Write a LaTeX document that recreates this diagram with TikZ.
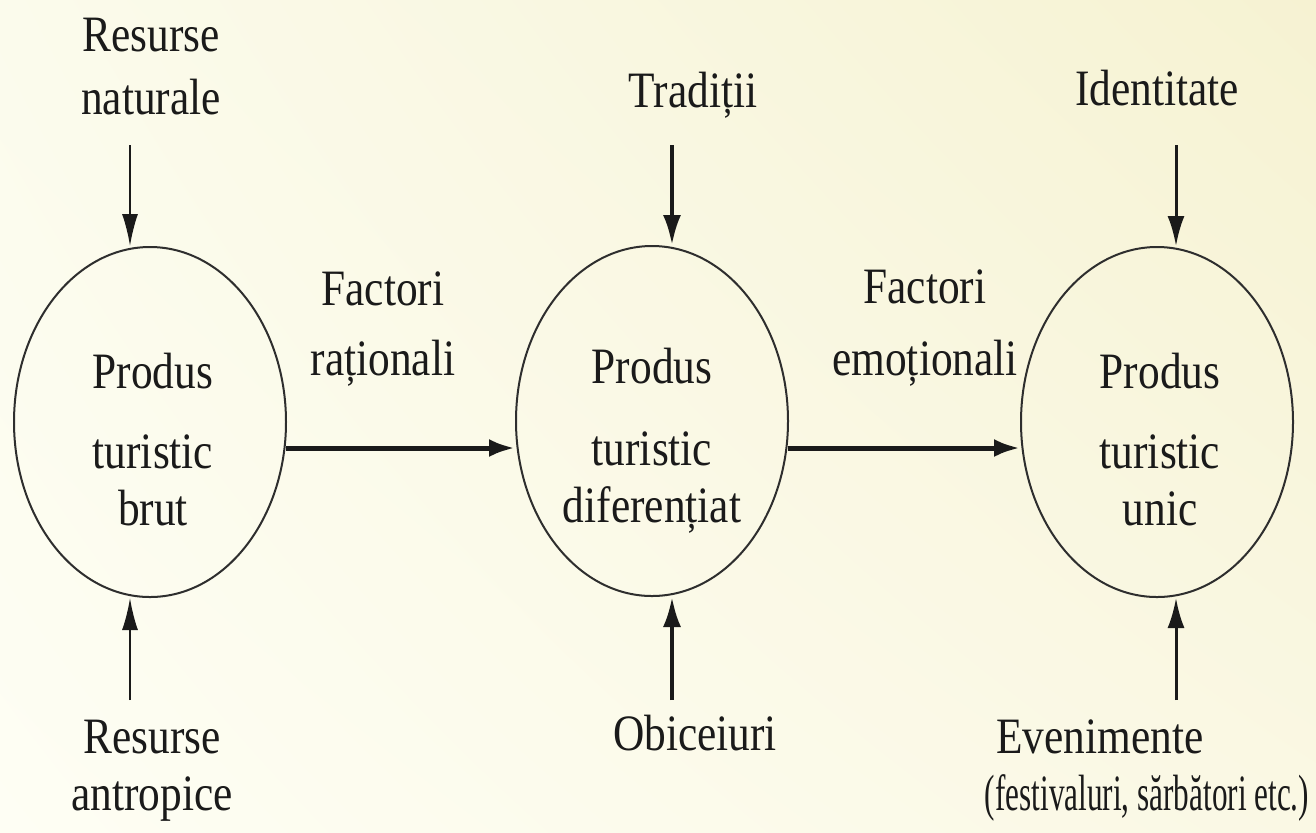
\documentclass[tikz,border=0pt]{standalone}
\usepackage{fontspec}
\setmainfont{Liberation Serif}[FakeStretch=0.85]
\usepackage{graphicx}
\usetikzlibrary{arrows.meta,shapes.geometric,shadings}
\definecolor{bgUL}{HTML}{FBFBEC}
\definecolor{bgUR}{HTML}{F6F2D2}
\definecolor{bgLL}{HTML}{FEFEF4}
\definecolor{bgLR}{HTML}{FAF8E4}
\definecolor{txt}{HTML}{1A1A1A}
\definecolor{ovl}{HTML}{2E2E2E}
\tikzset{
  lbl/.style={font=\fontsize{25.5}{28.5}\selectfont, inner sep=0pt, anchor=base, text=txt},
  oval/.style={draw=ovl, line width=1pt, ellipse, minimum width=136pt, minimum height=175pt, inner sep=0pt},
  thinarr/.style={draw=txt, line width=1pt, -{Latex[length=16pt,width=8pt]}},
  midarr/.style={draw=txt, line width=2pt, -{Latex[length=15pt,width=9pt]}},
  rgtarr/.style={draw=txt, line width=1.5pt, -{Latex[length=15pt,width=8.5pt]}},
  mainarr/.style={draw=txt, line width=2.5pt, -{Latex[length=13pt,width=9pt]}}
}
\begin{document}
\begin{tikzpicture}[x=0.5pt,y=-0.5pt]
\useasboundingbox (0,0) rectangle (1316,832);
\shade[upper left=bgUL, upper right=bgUR, lower left=bgLL, lower right=bgLR] (0,0) rectangle (1316,832);

% ellipses
\node[oval] (e1) at (150,422) {};
\node[oval] (e2) at (652,421) {};
\node[oval] (e3) at (1157,422) {};

% ellipse texts
\node[lbl] (t1) at (153,388) {\begin{tabular}[t]{@{}c@{}}Produs\\[11.5pt]turistic\\brut\end{tabular}};
\node[lbl] (t2) at (652,383) {\begin{tabular}[t]{@{}c@{}}Produs\\[12.5pt]turistic\\diferențiat\end{tabular}};
\node[lbl] (t3) at (1160,388) {\begin{tabular}[t]{@{}c@{}}Produs\\[11.5pt]turistic\\unic\end{tabular}};

% top labels
\node[lbl] (rn) at (151,51) {\begin{tabular}[t]{@{}c@{}}Resurse\\[3pt]naturale\end{tabular}};
\node[lbl] (tr) at (693,107) {Tradiții};
\node[lbl] (id) at (1157,105) {Identitate};

% bottom labels
\node[lbl] (ra) at (152,753) {\begin{tabular}[t]{@{}c@{}}Resurse\\antropice\end{tabular}};
\node[lbl] (ob) at (695,750) {Obiceiuri};
\node[lbl] (ev) at (1100,753) {Evenimente};
\node[lbl] (fs) at (1147,810) {\scalebox{0.72}[1]{(festivaluri, sărbători etc.)}};

% middle labels
\node[lbl] (fr) at (383,305) {\begin{tabular}[t]{@{}c@{}}Factori\\[6.5pt]raționali\end{tabular}};
\node[lbl] (fe) at (925,303) {\begin{tabular}[t]{@{}c@{}}Factori\\[7.5pt]emoționali\end{tabular}};

% vertical arrows
\coordinate (a1) at (130,145);
\coordinate (b1) at (130,700);
\coordinate (a2) at (672,145);
\coordinate (b2) at (672,700);
\coordinate (a3) at (1176,145);
\coordinate (b3) at (1176,700);
\draw[thinarr] (a1) -- (a1 |- e1.north);
\draw[thinarr] (b1) -- (b1 |- e1.south);
\draw[midarr] (a2) -- (a2 |- e2.north);
\draw[midarr] (b2) -- (b2 |- e2.south);
\draw[rgtarr] (a3) -- (a3 |- e3.north);
\draw[rgtarr] (b3) -- (b3 |- e3.south);

% horizontal arrows
\coordinate (h1) at (286,448);
\coordinate (h2) at (788,448);
\draw[mainarr] (h1) -- (h1 -| e2.west);
\draw[mainarr] (h2) -- (h2 -| e3.west);
\end{tikzpicture}
\end{document}
